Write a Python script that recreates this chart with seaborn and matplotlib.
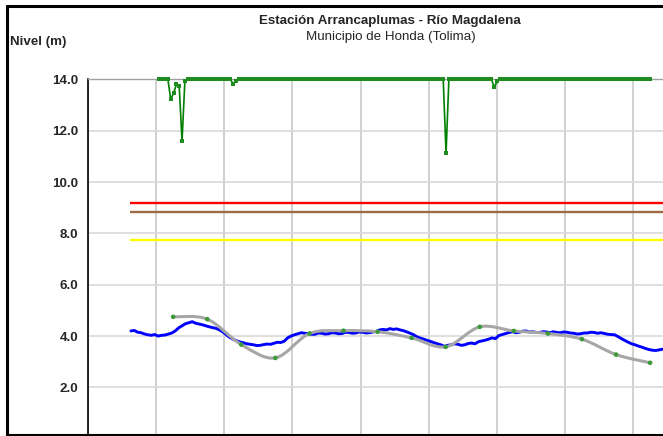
import numpy as np
import pandas as pd
import seaborn as sns
import matplotlib.pyplot as plt
from matplotlib.path import Path
from matplotlib.patches import PathPatch
from matplotlib.lines import Line2D

# nivel observado (m), cada medio dia a partir del dia 6.3
nivel_inicio = 6.3
nivel_paso = 0.5
nivel_obs = [
    4.20, 4.22, 4.15, 4.13, 4.08, 4.05, 4.03, 4.06, 4.00, 4.03,
    4.04, 4.08, 4.12, 4.20, 4.32, 4.40, 4.48, 4.52, 4.56, 4.50,
    4.47, 4.44, 4.40, 4.36, 4.33, 4.30, 4.24, 4.16, 4.05, 3.95,
    3.88, 3.82, 3.77, 3.74, 3.70, 3.68, 3.66, 3.63, 3.64, 3.67,
    3.69, 3.68, 3.72, 3.76, 3.75, 3.80, 3.93, 4.00, 4.05, 4.09,
    4.13, 4.11, 4.10, 4.07, 4.07, 4.12, 4.11, 4.08, 4.09, 4.13,
    4.12, 4.09, 4.10, 4.15, 4.14, 4.11, 4.12, 4.16, 4.15, 4.12,
    4.13, 4.16, 4.18, 4.24, 4.26, 4.24, 4.29, 4.26, 4.28, 4.24,
    4.21, 4.16, 4.11, 4.05, 3.97, 3.92, 3.88, 3.83, 3.79, 3.74,
    3.70, 3.66, 3.60, 3.64, 3.66, 3.70, 3.68, 3.64, 3.66, 3.71,
    3.73, 3.70, 3.78, 3.81, 3.84, 3.88, 3.93, 3.90, 4.02, 4.06,
    4.10, 4.14, 4.17, 4.13, 4.15, 4.19, 4.20, 4.16, 4.17, 4.14,
    4.14, 4.17, 4.16, 4.13, 4.17, 4.14, 4.13, 4.16, 4.15, 4.12,
    4.11, 4.08, 4.09, 4.12, 4.12, 4.15, 4.14, 4.11, 4.13, 4.10,
    4.07, 4.06, 4.05, 3.98, 3.90, 3.83, 3.76, 3.70, 3.66, 3.61,
    3.57, 3.52, 3.48, 3.45, 3.44, 3.46, 3.49,
]

# pronostico cada 5 dias
pron_dias = [12.5, 17.5, 22.5, 27.5, 32.5, 37.5, 42.5, 47.5,
             52.5, 57.5, 62.5, 67.5, 72.5, 77.5, 82.5]
pron_nivel = [4.75, 4.66, 3.67, 3.15, 4.10, 4.21, 4.17, 3.93,
              3.58, 4.36, 4.20, 4.10, 3.88, 3.28, 2.96]

# serie superior: tope de 14.0 m con algunas caidas
tope_inicio = 10.47
tope_fin = 82.7
tope_paso = 5 / 12
tope_base = 14.0
tope_caidas = {
    12.14: 13.23, 12.52: 13.45, 12.92: 13.80, 13.40: 13.73,
    13.80: 11.60, 14.24: 13.93, 21.33: 13.82, 21.72: 13.95,
    52.55: 11.12, 59.64: 13.69, 60.08: 13.92,
}

# umbrales
umbral_inicio = 6.2
umbral_rojo = 9.2
umbral_cafe = 8.85
umbral_amarillo = 7.75

y_ticks = [0, 2, 4, 6, 8, 10, 12, 14]
titulo = "Estación Arrancaplumas - Río Magdalena"
subtitulo = "Municipio de Honda (Tolima)"
eje_y = "Nivel (m)"


def suavizar(xs, ys):
    # curva suavizada tipo Excel (Catmull-Rom en Bezier)
    pts = np.column_stack([xs, ys])
    n = len(pts)
    verts = [pts[0]]
    codes = [Path.MOVETO]
    for i in range(n - 1):
        p0 = pts[max(i - 1, 0)]
        p1 = pts[i]
        p2 = pts[i + 1]
        p3 = pts[min(i + 2, n - 1)]
        verts += [p1 + (p2 - p0) / 6, p2 - (p3 - p1) / 6, p2]
        codes += [Path.CURVE4] * 3
    return Path(verts, codes)


sns.set_style("white")
plt.rcParams['font.family'] = ['Liberation Sans', 'DejaVu Sans']

W, H = 663, 436
fig = plt.figure(figsize=(W / 100, H / 100), dpi=100)
px_dia = 6.813
ax_left, ax_top, ax_bottom = 88, 79.3, 438.8
ax = fig.add_axes([ax_left / W, 1 - ax_bottom / H, 1 - ax_left / W,
                   (ax_bottom - ax_top) / H])

obs = pd.DataFrame({"dia": nivel_inicio + nivel_paso * np.arange(len(nivel_obs)),
                    "nivel": nivel_obs})
tope_dias = np.arange(tope_inicio, tope_fin, tope_paso)
tope_vals = np.full(len(tope_dias), tope_base)
for d, v in tope_caidas.items():
    tope_vals[np.argmin(np.abs(tope_dias - d))] = v
tope = pd.DataFrame({"dia": tope_dias, "nivel": tope_vals})

for nivel, color in [(umbral_rojo, "#FF0000"), (umbral_cafe, "#9C6B45"),
                     (umbral_amarillo, "#FFFF00")]:
    ax.plot([umbral_inicio, 100], [nivel, nivel], color=color, lw=1.7,
            solid_capstyle="butt", zorder=3)

sns.lineplot(data=tope, x="dia", y="nivel", ax=ax, color="#008000", lw=1.2,
             marker="s", markersize=2.6, markeredgewidth=0,
             markerfacecolor="#1E8C1E", zorder=4, clip_on=False)
sns.lineplot(data=obs, x="dia", y="nivel", ax=ax, color="#0000FF", lw=2.1,
             zorder=4)
ax.add_patch(PathPatch(suavizar(pron_dias, pron_nivel), facecolor="none",
                       edgecolor="#A6A6A6", lw=2.2, zorder=5))
sns.scatterplot(x=pron_dias, y=pron_nivel, ax=ax, color="#3A9A3A", s=11,
                edgecolor="none", zorder=6)

ax.set_xlim(0, (W - ax_left) / px_dia)
ax.set_ylim(0, 14)
ax.set_xticks(np.arange(0, 90, 10))
ax.set_xticklabels([])
ax.set_yticks(y_ticks)
ax.set_yticklabels([f"{t:.1f}" for t in y_ticks], fontsize=9.6,
                   fontweight="bold")
ax.tick_params(axis="x", length=0)
ax.tick_params(axis="y", direction="out", length=4, width=1, color="black",
               pad=3)
ax.set_xlabel("")
ax.set_ylabel("")
ax.grid(axis="y", color="#D9D9D9", lw=1.2)
ax.grid(axis="x", color="#C8C8C8", lw=1.2)
ax.set_axisbelow(True)
for s in ["right", "bottom"]:
    ax.spines[s].set_visible(False)
ax.spines["left"].set_color("black")
ax.spines["left"].set_linewidth(1.2)
ax.spines["top"].set_color("#A0A0A0")
ax.spines["top"].set_linewidth(1.0)

fig.text(390 / W, 1 - 21 / H, titulo, ha="center", va="center",
         fontsize=9.6, fontweight="bold")
fig.text(391 / W, 1 - 37 / H, subtitulo, ha="center", va="center",
         fontsize=9.6)
fig.text(10 / W, 1 - 41.5 / H, eje_y, ha="left", va="center", fontsize=9.6,
         fontweight="bold")

# marco negro exterior
lw_marco = 2.2
fig.add_artist(Line2D([6.5 / W, 6.5 / W], [1 - 435 / H, 1 - 6.5 / H],
                      color="black", lw=lw_marco, transform=fig.transFigure))
fig.add_artist(Line2D([6.5 / W, 1], [1 - 6.5 / H, 1 - 6.5 / H],
                      color="black", lw=lw_marco, transform=fig.transFigure))
fig.add_artist(Line2D([6.5 / W, 1], [1 - 434.5 / H, 1 - 434.5 / H],
                      color="black", lw=lw_marco, transform=fig.transFigure))

fig.savefig("out.png", dpi=100)
